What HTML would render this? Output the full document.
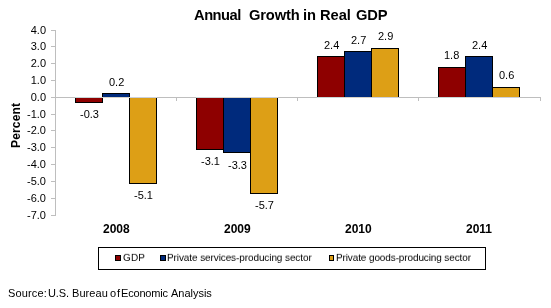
<!DOCTYPE html>
<html><head><meta charset="utf-8"><style>
html,body{margin:0;padding:0;background:#fff;width:551px;height:308px;overflow:hidden;}
body{position:relative;font-family:"Liberation Sans",sans-serif;color:#000;}
svg{position:absolute;left:0;top:0;}
.t{position:absolute;white-space:pre;will-change:transform;}
</style></head><body>
<svg width="551" height="308" shape-rendering="crispEdges">
<rect x="55" y="30" width="1" height="186" fill="#BEBEBE"/>
<rect x="51" y="30" width="4" height="1" fill="#BEBEBE"/>
<rect x="51" y="46" width="4" height="1" fill="#BEBEBE"/>
<rect x="51" y="63" width="4" height="1" fill="#BEBEBE"/>
<rect x="51" y="80" width="4" height="1" fill="#BEBEBE"/>
<rect x="51" y="97" width="4" height="1" fill="#BEBEBE"/>
<rect x="51" y="114" width="4" height="1" fill="#BEBEBE"/>
<rect x="51" y="130" width="4" height="1" fill="#BEBEBE"/>
<rect x="51" y="147" width="4" height="1" fill="#BEBEBE"/>
<rect x="51" y="164" width="4" height="1" fill="#BEBEBE"/>
<rect x="51" y="181" width="4" height="1" fill="#BEBEBE"/>
<rect x="51" y="198" width="4" height="1" fill="#BEBEBE"/>
<rect x="51" y="215" width="4" height="1" fill="#BEBEBE"/>
<rect x="55" y="97" width="486" height="1" fill="#BEBEBE"/>
<rect x="176" y="97" width="1" height="4" fill="#BEBEBE"/>
<rect x="297" y="97" width="1" height="4" fill="#BEBEBE"/>
<rect x="418" y="97" width="1" height="4" fill="#BEBEBE"/>
<rect x="540" y="97" width="1" height="4" fill="#BEBEBE"/>
<rect x="75" y="98" width="28" height="5" fill="#000"/>
<rect x="76" y="98" width="26" height="4" fill="#8E0000"/>
<rect x="75" y="97" width="28" height="1" fill="#C8D6D6"/>
<rect x="102" y="93" width="28" height="4" fill="#000"/>
<rect x="103" y="94" width="26" height="3" fill="#002A7C"/>
<rect x="102" y="97" width="28" height="1" fill="#D8D2C6"/>
<rect x="129" y="98" width="28" height="86" fill="#000"/>
<rect x="130" y="98" width="26" height="85" fill="#DD9F16"/>
<rect x="129" y="97" width="28" height="1" fill="#CCD0DA"/>
<rect x="196" y="98" width="28" height="52" fill="#000"/>
<rect x="197" y="98" width="26" height="51" fill="#8E0000"/>
<rect x="196" y="97" width="28" height="1" fill="#C8D6D6"/>
<rect x="223" y="98" width="28" height="55" fill="#000"/>
<rect x="224" y="98" width="26" height="54" fill="#002A7C"/>
<rect x="223" y="97" width="28" height="1" fill="#D8D2C6"/>
<rect x="250" y="98" width="28" height="96" fill="#000"/>
<rect x="251" y="98" width="26" height="95" fill="#DD9F16"/>
<rect x="250" y="97" width="28" height="1" fill="#CCD0DA"/>
<rect x="317" y="56" width="28" height="41" fill="#000"/>
<rect x="318" y="57" width="26" height="40" fill="#8E0000"/>
<rect x="317" y="97" width="28" height="1" fill="#C8D6D6"/>
<rect x="344" y="51" width="28" height="46" fill="#000"/>
<rect x="345" y="52" width="26" height="45" fill="#002A7C"/>
<rect x="344" y="97" width="28" height="1" fill="#D8D2C6"/>
<rect x="371" y="48" width="28" height="49" fill="#000"/>
<rect x="372" y="49" width="26" height="48" fill="#DD9F16"/>
<rect x="371" y="97" width="28" height="1" fill="#CCD0DA"/>
<rect x="438" y="67" width="28" height="30" fill="#000"/>
<rect x="439" y="68" width="26" height="29" fill="#8E0000"/>
<rect x="438" y="97" width="28" height="1" fill="#C8D6D6"/>
<rect x="465" y="56" width="28" height="41" fill="#000"/>
<rect x="466" y="57" width="26" height="40" fill="#002A7C"/>
<rect x="465" y="97" width="28" height="1" fill="#D8D2C6"/>
<rect x="492" y="87" width="28" height="10" fill="#000"/>
<rect x="493" y="88" width="26" height="9" fill="#DD9F16"/>
<rect x="492" y="97" width="28" height="1" fill="#CCD0DA"/>
<rect x="98.5" y="247.5" width="387" height="22" fill="none" stroke="#000" stroke-width="1"/>
<rect x="115" y="255" width="6" height="6" fill="#000"/>
<rect x="116" y="256" width="4" height="4" fill="#8E0000"/>
<rect x="160" y="255" width="6" height="6" fill="#000"/>
<rect x="161" y="256" width="4" height="4" fill="#002A7C"/>
<rect x="329" y="255" width="5" height="6" fill="#000"/>
<rect x="330" y="256" width="3" height="4" fill="#DD9F16"/>
</svg>
<div class="t" style="left:79.5px;top:107px;font-size:11px;line-height:14px;">-0.3</div>
<div class="t" style="left:108.5px;top:75px;font-size:11px;line-height:14px;">0.2</div>
<div class="t" style="left:133.5px;top:188px;font-size:11px;line-height:14px;">-5.1</div>
<div class="t" style="left:200.5px;top:154px;font-size:11px;line-height:14px;">-3.1</div>
<div class="t" style="left:227.5px;top:158px;font-size:11px;line-height:14px;">-3.3</div>
<div class="t" style="left:254.5px;top:198px;font-size:11px;line-height:14px;">-5.7</div>
<div class="t" style="left:323.5px;top:38px;font-size:11px;line-height:14px;">2.4</div>
<div class="t" style="left:350.5px;top:33px;font-size:11px;line-height:14px;">2.7</div>
<div class="t" style="left:377.5px;top:29px;font-size:11px;line-height:14px;">2.9</div>
<div class="t" style="left:444.0px;top:48px;font-size:11px;line-height:14px;">1.8</div>
<div class="t" style="left:471.5px;top:38px;font-size:11px;line-height:14px;">2.4</div>
<div class="t" style="left:498.5px;top:68px;font-size:11px;line-height:14px;">0.6</div>
<div class="t" style="left:194px;top:7px;font-size:14.7px;font-weight:bold;line-height:16px;letter-spacing:-0.48px;">Annual</div>
<div class="t" style="left:249px;top:7px;font-size:14.7px;font-weight:bold;line-height:16px;letter-spacing:-0.16px;">Growth</div>
<div class="t" style="left:303px;top:7px;font-size:14.7px;font-weight:bold;line-height:16px;letter-spacing:-0.2px;">in</div>
<div class="t" style="left:320px;top:7px;font-size:14.7px;font-weight:bold;line-height:16px;letter-spacing:-0.033px;">Real</div>
<div class="t" style="left:355.5px;top:7px;font-size:14.7px;font-weight:bold;line-height:16px;letter-spacing:-0.15px;">GDP</div>
<div class="t" style="left:0;width:46px;text-align:right;top:23px;font-size:11px;line-height:14px;">4.0</div>
<div class="t" style="left:0;width:46px;text-align:right;top:39px;font-size:11px;line-height:14px;">3.0</div>
<div class="t" style="left:0;width:46px;text-align:right;top:56px;font-size:11px;line-height:14px;">2.0</div>
<div class="t" style="left:0;width:46px;text-align:right;top:73px;font-size:11px;line-height:14px;">1.0</div>
<div class="t" style="left:0;width:46px;text-align:right;top:90px;font-size:11px;line-height:14px;">0.0</div>
<div class="t" style="left:0;width:46px;text-align:right;top:107px;font-size:11px;line-height:14px;">-1.0</div>
<div class="t" style="left:0;width:46px;text-align:right;top:123px;font-size:11px;line-height:14px;">-2.0</div>
<div class="t" style="left:0;width:46px;text-align:right;top:140px;font-size:11px;line-height:14px;">-3.0</div>
<div class="t" style="left:0;width:46px;text-align:right;top:157px;font-size:11px;line-height:14px;">-4.0</div>
<div class="t" style="left:0;width:46px;text-align:right;top:174px;font-size:11px;line-height:14px;">-5.0</div>
<div class="t" style="left:0;width:46px;text-align:right;top:191px;font-size:11px;line-height:14px;">-6.0</div>
<div class="t" style="left:0;width:46px;text-align:right;top:208px;font-size:11px;line-height:14px;">-7.0</div>
<div class="t" style="left:102.7px;top:222px;font-size:12px;font-weight:bold;line-height:14px;">2008</div>
<div class="t" style="left:223.97px;top:222px;font-size:12px;font-weight:bold;line-height:14px;">2009</div>
<div class="t" style="left:344.74px;top:222px;font-size:12px;font-weight:bold;line-height:14px;">2010</div>
<div class="t" style="left:465.51px;top:222px;font-size:12px;font-weight:bold;line-height:14px;">2011</div>
<div class="t" style="left:122.5px;top:252px;font-size:10px;line-height:13px;transform:scaleY(0.9);transform-origin:0 0;letter-spacing:0.1px;">GDP</div>
<div class="t" style="left:166.7px;top:252px;font-size:10px;line-height:13px;transform:scaleY(0.9);transform-origin:0 0;letter-spacing:-0.097px;">Private services-producing sector</div>
<div class="t" style="left:336px;top:252px;font-size:10px;line-height:13px;transform:scaleY(0.9);transform-origin:0 0;letter-spacing:-0.117px;">Private goods-producing sector</div>
<div class="t" style="left:8.4px;top:286px;font-size:11px;line-height:14px;letter-spacing:0.15px;">Source:</div>
<div class="t" style="left:47.8px;top:286px;font-size:11px;line-height:14px;letter-spacing:-0.1px;">U.S.</div>
<div class="t" style="left:71.5px;top:286px;font-size:11px;line-height:14px;letter-spacing:0.06px;">Bureau</div>
<div class="t" style="left:110.4px;top:286px;font-size:11px;line-height:14px;letter-spacing:0.8px;">of</div>
<div class="t" style="left:121.3px;top:286px;font-size:11px;line-height:14px;letter-spacing:-0.186px;">Economic</div>
<div class="t" style="left:171.4px;top:286px;font-size:11px;line-height:14px;letter-spacing:-0.014px;">Analysis</div>
<div class="t" style="left:9px;top:148px;font-size:12px;font-weight:bold;line-height:14px;transform:rotate(-90deg);transform-origin:0 0;letter-spacing:0.167px;">Percent</div>
</body></html>
